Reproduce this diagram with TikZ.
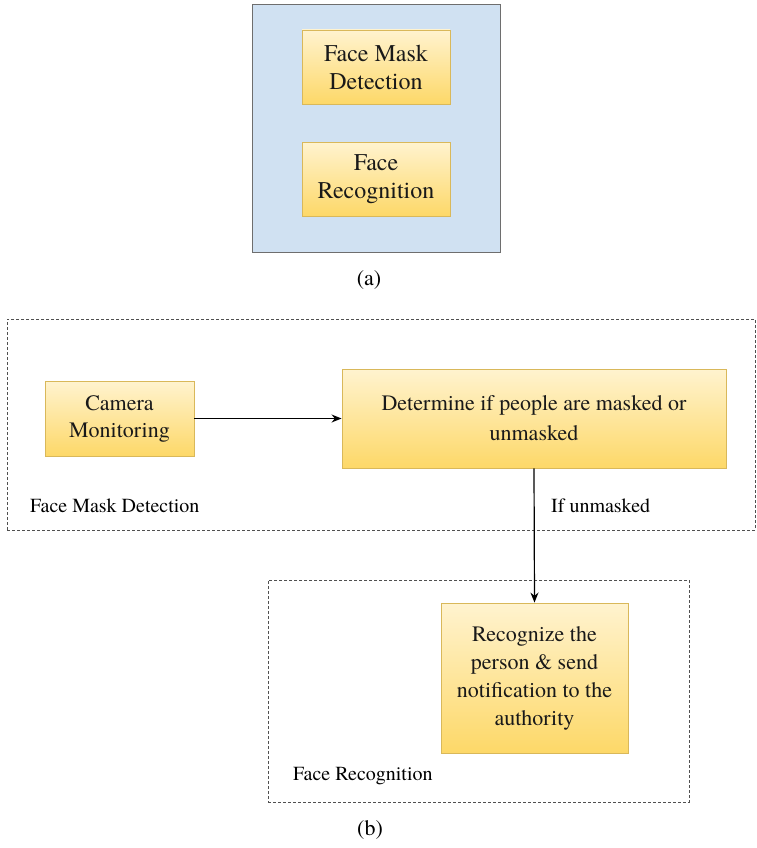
\documentclass[tikz,border=0pt]{standalone}
\usepackage{fontspec}
\setmainfont{texgyretermes}[Extension=.otf, UprightFont=*-regular, BoldFont=*-bold, ItalicFont=*-italic, BoldItalicFont=*-bolditalic]
\usetikzlibrary{arrows.meta,positioning}
\definecolor{panelblue}{HTML}{D0E1F2}
\definecolor{paneledge}{HTML}{6E6E6E}
\definecolor{boxtop}{HTML}{FFF3CF}
\definecolor{boxbottom}{HTML}{FDD868}
\definecolor{boxedge}{HTML}{D9B85A}
\definecolor{dashgrey}{HTML}{505050}
\tikzset{
  x=1pt, y=-1pt,
  goldbox/.style={draw=boxedge, line width=0.9pt, top color=boxtop, bottom color=boxbottom,
    align=center, inner sep=0pt, text=black!90},
  regionbox/.style={draw=dashgrey, line width=0.9pt, dash pattern=on 3pt off 2pt},
  flow/.style={line width=1.2pt, -{Stealth[length=10pt,width=8pt]}},
  tag/.style={anchor=west, inner sep=0pt, font=\fontsize{20}{24}\selectfont},
}
\begin{document}
\begin{tikzpicture}
\useasboundingbox (0,0) rectangle (757,848);

% (a) overview panel
\node[draw=paneledge, fill=panelblue, line width=1pt, minimum width=248pt, minimum height=247pt, inner sep=0pt]
  (panel) at (376,128.5) {};
\node[goldbox, minimum width=148pt, minimum height=74pt, font=\fontsize{24}{28}\selectfont]
  (fmd) at (376,67) {Face Mask\\Detection};
\node[goldbox, minimum width=148pt, minimum height=74pt, font=\fontsize{24}{28}\selectfont]
  (frc) at (376,179) {Face\\Recognition};
\node[font=\fontsize{22}{26}\selectfont] (capa) at (369,280) {(a)};

% (b) workflow
\node[regionbox, minimum width=748pt, minimum height=211pt, inner sep=0pt] (detregion) at (381,424.5) {};
\node[regionbox, minimum width=421pt, minimum height=222pt, inner sep=0pt] (recregion) at (478.5,691) {};

\node[goldbox, minimum width=149pt, minimum height=75pt, font=\fontsize{22}{27}\selectfont]
  (cam) at (119.5,418.5) {Camera\\Monitoring};
\node[goldbox, minimum width=384pt, minimum height=99pt, font=\fontsize{22}{30}\selectfont]
  (det) at (534,418.5) {Determine if people are masked or\\unmasked};
\node[goldbox, minimum width=187pt, minimum height=150pt, font=\fontsize{22}{28}\selectfont]
  (rec) at (534.5,678) {Recognize the\\person \& send\\notification to the\\authority};

\draw[flow] (cam.east) -- (det.west);
\draw[flow] (det.south) -- (rec.north);

\node[tag] (detlabel) at (30,506) {Face Mask Detection};
\node[tag] (unmasked) at (551,506) {If unmasked};
\node[tag] (reclabel) at (293,776) {Face Recognition};
\node[font=\fontsize{22}{26}\selectfont] (capb) at (370,830) {(b)};
\end{tikzpicture}
\end{document}
